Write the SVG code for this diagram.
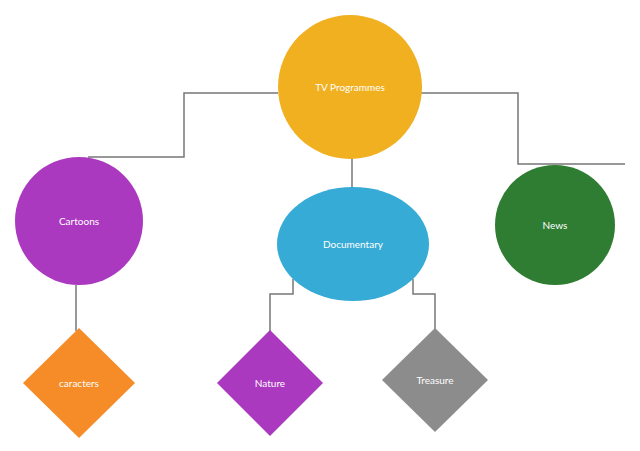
<svg xmlns="http://www.w3.org/2000/svg" width="640" height="451" viewBox="0 0 640 451">
<style>
.c{fill:none;stroke:#777;stroke-width:1.5}
text{font-family:Lato,"Liberation Sans",sans-serif;font-size:10px;fill:#fff;text-anchor:middle;dominant-baseline:central}
</style>
<rect width="640" height="451" fill="#fff"/>
<g id="connectors">
<polyline class="c" points="278,93 184,93 184,157 88,157"/>
<polyline class="c" points="421,93 518,93 518,164 625,164"/>
<line class="c" x1="352" y1="158" x2="352" y2="188"/>
<line class="c" x1="76" y1="285" x2="76" y2="331"/>
<polyline class="c" points="293,279 293,294 270,294 270,331"/>
<polyline class="c" points="413,279 413,294 435,294 435,331"/>
</g>
<g id="tv"><circle cx="350" cy="87" r="72" fill="#f0b020"/><text x="350" y="87">TV Programmes</text></g>
<g id="cartoons"><circle cx="79" cy="221" r="64" fill="#ab39c0"/><text x="79" y="221">Cartoons</text></g>
<g id="documentary"><ellipse cx="353" cy="244" rx="76" ry="57" fill="#36abd6"/><text x="353" y="244">Documentary</text></g>
<g id="news"><circle cx="555" cy="225" r="60" fill="#2e7d32"/><text x="555" y="225">News</text></g>
<g id="caracters"><polygon points="79,328 135,383 79,438 23,383" fill="#f58c28"/><text x="79" y="383">caracters</text></g>
<g id="nature"><polygon points="270,330 323,383 270,436 217,383" fill="#ab39c0"/><text x="270" y="383">Nature</text></g>
<g id="treasure"><polygon points="435,328 488,380 435,432 382,380" fill="#8c8c8c"/><text x="435" y="380">Treasure</text></g>
</svg>
